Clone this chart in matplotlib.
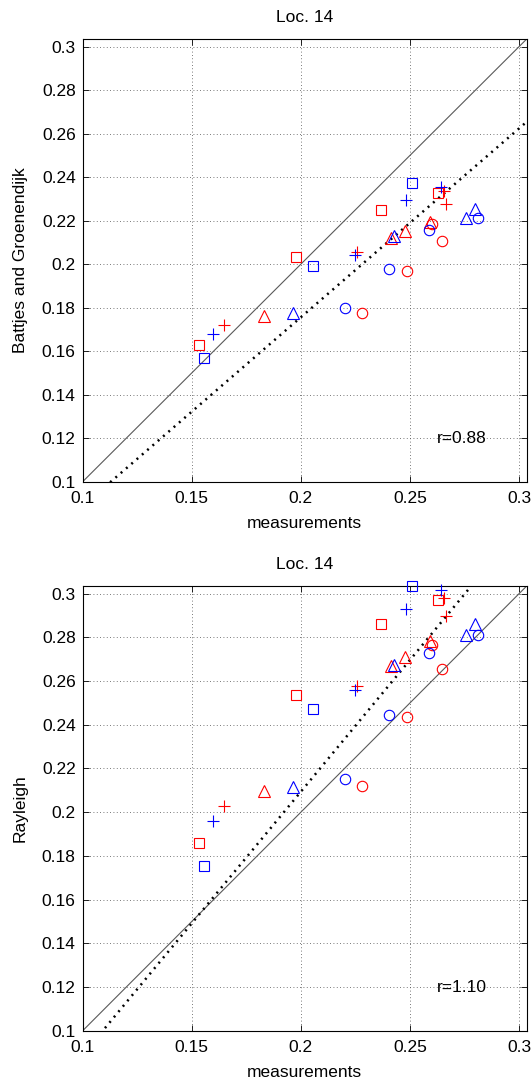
import numpy as np
import matplotlib
matplotlib.use('Agg')
import matplotlib.pyplot as plt

plt.rcParams['font.family'] = ['Liberation Sans', 'DejaVu Sans']

# measured values and the two model estimates, per marker group
sq_r_meas = [0.1535, 0.1977, 0.2366, 0.2628]
sq_r_bg = [0.1629, 0.2033, 0.2248, 0.2328]
sq_r_ray = [0.1857, 0.2537, 0.2860, 0.2973]

sq_b_meas = [0.1557, 0.2055, 0.2509]
sq_b_bg = [0.1569, 0.1991, 0.2374]
sq_b_ray = [0.1756, 0.2472, 0.3037]

pl_r_meas = [0.1646, 0.2258, 0.2658, 0.2666]
pl_r_bg = [0.1722, 0.2056, 0.2336, 0.2278]
pl_r_ray = [0.2027, 0.2576, 0.2980, 0.2899]

pl_b_meas = [0.1597, 0.2246, 0.2481, 0.2643]
pl_b_bg = [0.1680, 0.2043, 0.2296, 0.2357]
pl_b_ray = [0.1961, 0.2560, 0.2930, 0.3015]

tr_r_meas = [0.1830, 0.2412, 0.2478, 0.2594]
tr_r_bg = [0.1760, 0.2121, 0.2152, 0.2193]
tr_r_ray = [0.2096, 0.2667, 0.2711, 0.2785]

tr_b_meas = [0.1966, 0.2428, 0.2755, 0.2800]
tr_b_bg = [0.1775, 0.2128, 0.2213, 0.2252]
tr_b_ray = [0.2114, 0.2675, 0.2809, 0.2861]

ci_r_meas = [0.2280, 0.2485, 0.2600, 0.2645]
ci_r_bg = [0.1775, 0.1967, 0.2186, 0.2106]
ci_r_ray = [0.2119, 0.2434, 0.2766, 0.2655]

ci_b_meas = [0.2200, 0.2403, 0.2588, 0.2812]
ci_b_bg = [0.1797, 0.1976, 0.2157, 0.2213]
ci_b_ray = [0.2154, 0.2446, 0.2728, 0.2809]

# fitted lines (slope, intercept) and ratio labels
fit_bg = (0.868, 0.002)
fit_ray = (1.205, -0.0316)
r_bg = 'r=0.88'
r_ray = 'r=1.10'

xticks = [0.1, 0.15, 0.2, 0.25, 0.3]
xtick_labels = ['0.1', '0.15', '0.2', '0.25', '0.3']
yticks = [0.1, 0.12, 0.14, 0.16, 0.18, 0.2, 0.22, 0.24, 0.26, 0.28, 0.3]
ytick_labels = ['0.1', '0.12', '0.14', '0.16', '0.18', '0.2', '0.22', '0.24',
                '0.26', '0.28', '0.3']
lim = (0.1, 0.3035)
fs = 12.5


def draw(ax, col, fit, rtext, ylabel):
    groups = [
        (sq_r_meas, col['sq_r'], 's', 'r', 7.2),
        (sq_b_meas, col['sq_b'], 's', 'b', 7.2),
        (pl_r_meas, col['pl_r'], '+', 'r', 9),
        (pl_b_meas, col['pl_b'], '+', 'b', 9),
        (tr_r_meas, col['tr_r'], '^', 'r', 8),
        (tr_b_meas, col['tr_b'], '^', 'b', 8),
        (ci_r_meas, col['ci_r'], 'o', 'r', 7.5),
        (ci_b_meas, col['ci_b'], 'o', 'b', 7.5),
    ]
    xx = np.array([0.0, 0.4])
    ax.plot(xx, xx, '-', color='0.35', lw=0.8, zorder=2)
    ax.plot(xx, fit[0] * xx + fit[1], color='k', lw=1.8,
            linestyle=(0, (0.8, 2.0)), zorder=2)
    for xm, ym, mk, c, ms in groups:
        ax.plot(xm, ym, linestyle='none', marker=mk, markersize=ms,
                markerfacecolor='none', markeredgecolor=c, markeredgewidth=0.8,
                clip_on=False, zorder=3)
    ax.set_xlim(lim)
    ax.set_ylim(lim)
    ax.set_xticks(xticks)
    ax.set_xticklabels(xtick_labels)
    ax.set_yticks(yticks)
    ax.set_yticklabels(ytick_labels)
    ax.grid(True, color='0.3', linestyle=(0, (1, 3)), linewidth=0.6)
    ax.tick_params(direction='in', top=True, right=True, length=4,
                   width=0.6, labelsize=fs, pad=5)
    ax.tick_params(axis='x', pad=7)
    for s in ax.spines.values():
        s.set_linewidth(0.8)
    ax.text(0.2625, 0.12, rtext, ha='left', va='center', fontsize=fs)
    ax.set_title('Loc. 14', fontsize=fs, pad=12)
    ax.set_xlabel('measurements', fontsize=fs, labelpad=7)
    ax.set_ylabel(ylabel, fontsize=fs, labelpad=10)


fig = plt.figure(figsize=(5.31, 10.81), dpi=100)
ax1 = fig.add_axes([0.1557, 0.5544, 0.8362, 0.4095])
ax2 = fig.add_axes([0.1557, 0.0465, 0.8362, 0.4114])

draw(ax1, dict(sq_r=sq_r_bg, sq_b=sq_b_bg, pl_r=pl_r_bg, pl_b=pl_b_bg,
               tr_r=tr_r_bg, tr_b=tr_b_bg, ci_r=ci_r_bg, ci_b=ci_b_bg),
     fit_bg, r_bg, 'Battjes and Groenendijk')
draw(ax2, dict(sq_r=sq_r_ray, sq_b=sq_b_ray, pl_r=pl_r_ray, pl_b=pl_b_ray,
               tr_r=tr_r_ray, tr_b=tr_b_ray, ci_r=ci_r_ray, ci_b=ci_b_ray),
     fit_ray, r_ray, 'Rayleigh')

fig.savefig('out.png', dpi=100)
